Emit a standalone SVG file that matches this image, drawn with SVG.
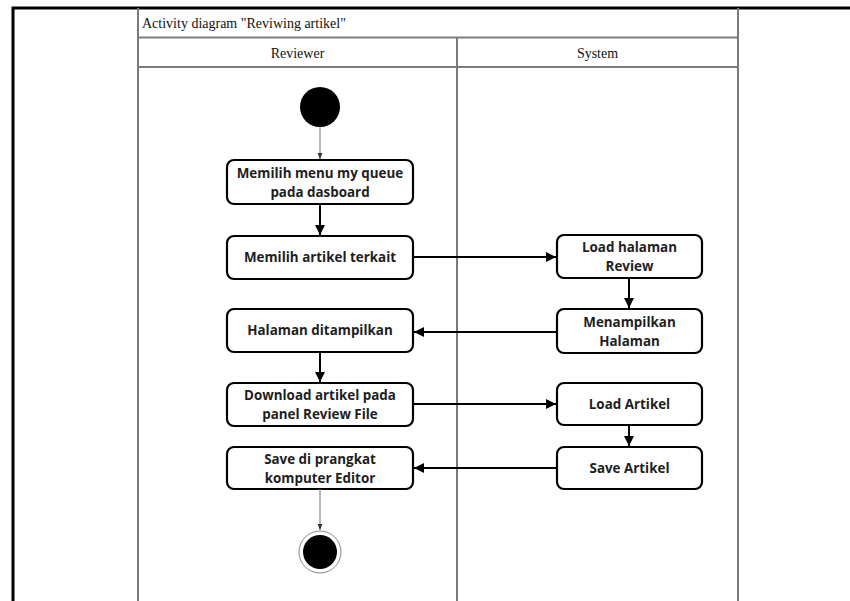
<svg xmlns="http://www.w3.org/2000/svg" width="850" height="601" viewBox="0 0 850 601">
  <style>
    .frame { fill: none; stroke: #7a7a7a; stroke-width: 2; }
    .hdr { font-family: "Liberation Serif", "Times New Roman", serif; font-size: 14px; fill: #111; }
    .act rect { fill: #fff; stroke: #000; stroke-width: 2.2; }
    .act text { font-family: "Open Sans", "Noto Sans", sans-serif; font-weight: bold; font-size: 13.4px; fill: #1e1e1e; text-anchor: middle; }
    .flow { fill: none; stroke: #000; stroke-width: 2; marker-end: url(#head); }
    .thin { fill: none; stroke: #8a8a8a; stroke-width: 1.2; marker-end: url(#headThin); }
  </style>
  <defs>
    <marker id="head" viewBox="0 0 10 10" refX="10" refY="5" markerWidth="5" markerHeight="5" orient="auto" markerUnits="strokeWidth">
      <path d="M0,0 L10,5 L0,10 z" fill="#000"/>
    </marker>
    <marker id="headThin" viewBox="0 0 10 10" refX="10" refY="5" markerWidth="5" markerHeight="5" orient="auto" markerUnits="strokeWidth">
      <path d="M0,1 L10,5 L0,9 z" fill="#333"/>
    </marker>
  </defs>

  <rect x="0" y="0" width="850" height="601" fill="#fff"/>

  <!-- page border -->
  <path d="M13,601 V8 H850" fill="none" stroke="#000" stroke-width="3"/>

  <!-- swimlane frame -->
  <g id="frame">
    <line class="frame" x1="138" y1="8" x2="138" y2="601"/>
    <line class="frame" x1="738" y1="8" x2="738" y2="601"/>
    <line class="frame" x1="138" y1="37.5" x2="738" y2="37.5"/>
    <line class="frame" x1="138" y1="67" x2="738" y2="67"/>
    <line class="frame" x1="457" y1="37.5" x2="457" y2="601"/>
    <text class="hdr" x="142" y="28">Activity diagram "Reviwing artikel"</text>
    <text class="hdr" x="297.5" y="58" text-anchor="middle">Reviewer</text>
    <text class="hdr" x="597.5" y="58" text-anchor="middle">System</text>
  </g>

  <!-- start / end -->
  <g id="start"><circle cx="320" cy="107" r="20" fill="#000"/></g>
  <g id="end">
    <circle cx="320" cy="552" r="21" fill="#fff" stroke="#888" stroke-width="1"/>
    <circle cx="320" cy="552" r="17" fill="#000"/>
  </g>

  <!-- activities -->
  <g id="n1" class="act">
    <rect x="227" y="160" width="186" height="44" rx="7"/>
    <text x="320" y="178">Memilih menu my queue</text>
    <text x="320" y="197">pada dasboard</text>
  </g>
  <g id="n2" class="act">
    <rect x="227" y="236" width="186" height="43" rx="7"/>
    <text x="320" y="262">Memilih artikel terkait</text>
  </g>
  <g id="n3" class="act">
    <rect x="227" y="309" width="186" height="43" rx="7"/>
    <text x="320" y="335">Halaman ditampilkan</text>
  </g>
  <g id="n4" class="act">
    <rect x="227" y="383" width="186" height="43" rx="7"/>
    <text x="320" y="400">Download artikel pada</text>
    <text x="320" y="419">panel Review File</text>
  </g>
  <g id="n5" class="act">
    <rect x="227" y="447" width="186" height="42" rx="7"/>
    <text x="320" y="464">Save di prangkat</text>
    <text x="320" y="483">komputer Editor</text>
  </g>
  <g id="s1" class="act">
    <rect x="557" y="235" width="145" height="43" rx="7"/>
    <text x="629.5" y="252">Load halaman</text>
    <text x="629.5" y="271">Review</text>
  </g>
  <g id="s2" class="act">
    <rect x="557" y="309" width="145" height="44" rx="7"/>
    <text x="629.5" y="327">Menampilkan</text>
    <text x="629.5" y="346">Halaman</text>
  </g>
  <g id="s3" class="act">
    <rect x="557" y="383" width="145" height="42" rx="7"/>
    <text x="629.5" y="409">Load Artikel</text>
  </g>
  <g id="s4" class="act">
    <rect x="557" y="447" width="145" height="42" rx="7"/>
    <text x="629.5" y="473">Save Artikel</text>
  </g>

  <!-- control flows -->
  <g id="connectors">
    <line class="thin" x1="320" y1="127" x2="320" y2="159"/>
    <line class="flow" x1="320" y1="204" x2="320" y2="235"/>
    <line class="flow" x1="413" y1="257" x2="556" y2="257"/>
    <line class="flow" x1="629" y1="278" x2="629" y2="308"/>
    <line class="flow" x1="557" y1="332" x2="414" y2="332"/>
    <line class="flow" x1="320" y1="352" x2="320" y2="382"/>
    <line class="flow" x1="413" y1="404" x2="556" y2="404"/>
    <line class="flow" x1="629" y1="425" x2="629" y2="446"/>
    <line class="flow" x1="557" y1="468" x2="414" y2="468"/>
    <line class="thin" x1="320" y1="489" x2="320" y2="530"/>
  </g>
</svg>
